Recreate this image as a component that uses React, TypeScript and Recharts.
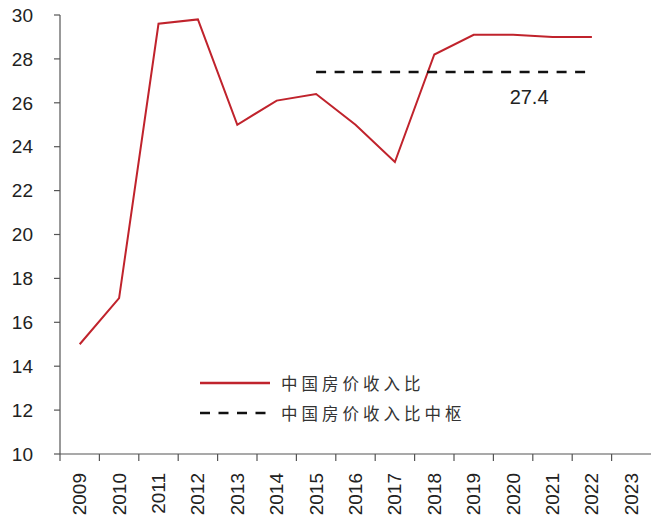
import React from "react"
import { LineChart, Line, XAxis, YAxis } from "recharts"

const years = ["2009", "2010", "2011", "2012", "2013", "2014", "2015", "2016", "2017", "2018", "2019", "2020", "2021", "2022", "2023"]
const ratio = [15.0, 17.1, 29.6, 29.8, 25.0, 26.1, 26.4, 25.0, 23.3, 28.2, 29.1, 29.1, 29.0, 29.0, null]
const median = [null, null, null, null, null, null, 27.4, 27.4, 27.4, 27.4, 27.4, 27.4, 27.4, 27.4, null]
const yTicks = [10, 12, 14, 16, 18, 20, 22, 24, 26, 28, 30]

const LINE_NAME = "中国房价收入比"
const MEDIAN_NAME = "中国房价收入比中枢"
const RED = "#c0232c"
const FONT = "'Liberation Sans', Arial, sans-serif"

const W = 651
const H = 517
const LEFT = 60
const band = (W - LEFT) / years.length

const data = years.map((year, i) => ({ year, ratio: ratio[i], median: median[i] }))

function XTick(props: any) {
  const { x, y, payload } = props
  return (
    <g>
      <line x1={x - band / 2} y1={y - 8} x2={x - band / 2} y2={y - 1} stroke="#555" strokeWidth={1.2} />
      <text
        x={x}
        y={y + 11}
        transform={`rotate(-90, ${x}, ${y + 11})`}
        textAnchor="end"
        dominantBaseline="central"
        fontSize={19}
        fill="#222"
        fontFamily={FONT}
      >
        {payload.value}
      </text>
    </g>
  )
}

function MedianLabel(props: any) {
  const { x, y, index } = props
  if (index !== 11) return null
  return (
    <text x={x + 16} y={y + 25} textAnchor="middle" dominantBaseline="central" fontSize={20} fill="#222" fontFamily={FONT}>
      27.4
    </text>
  )
}

function LegendBox() {
  const row: React.CSSProperties = { display: "flex", alignItems: "center", height: 30 }
  const txt: React.CSSProperties = {
    fontFamily: "'Noto Sans CJK SC', sans-serif",
    fontSize: 16.5,
    letterSpacing: 4,
    color: "#333",
    marginLeft: 11,
    lineHeight: "30px",
  }
  return (
    <div style={{ position: "absolute", left: 200, top: 368 }}>
      <div style={row}>
        <svg width={70} height={4}>
          <line x1={0} y1={2} x2={70} y2={2} stroke={RED} strokeWidth={2.5} />
        </svg>
        <span style={txt}>{LINE_NAME}</span>
      </div>
      <div style={row}>
        <svg width={70} height={4}>
          <line x1={0} y1={2} x2={70} y2={2} stroke="#111" strokeWidth={2.5} strokeDasharray="10 8.5" />
        </svg>
        <span style={txt}>{MEDIAN_NAME}</span>
      </div>
    </div>
  )
}

export default function App() {
  return (
    <div style={{ position: "absolute", left: 0, top: 0, width: W, height: H, background: "#fff" }}>
      <LineChart width={W} height={H} data={data} margin={{ top: 15, right: 0, bottom: 0, left: 0 }}>
        <XAxis
          dataKey="year"
          scale="band"
          interval={0}
          tickLine={false}
          axisLine={{ stroke: "#555", strokeWidth: 1.2 }}
          tick={<XTick />}
          height={63}
        />
        <YAxis
          domain={[10, 30]}
          ticks={yTicks}
          width={LEFT}
          tickSize={6}
          tickMargin={21}
          axisLine={{ stroke: "#555", strokeWidth: 1.2 }}
          tickLine={{ stroke: "#555", strokeWidth: 1.2 }}
          tick={{ fontSize: 19, fill: "#222", fontFamily: FONT }}
        />
        <Line
          dataKey="ratio"
          name={LINE_NAME}
          stroke={RED}
          strokeWidth={2}
          dot={false}
          activeDot={false}
          isAnimationActive={false}
        />
        <Line
          dataKey="median"
          name={MEDIAN_NAME}
          stroke="#111"
          strokeWidth={2.5}
          strokeDasharray="10 8.5"
          dot={false}
          activeDot={false}
          label={<MedianLabel />}
          isAnimationActive={false}
        />
      </LineChart>
      <LegendBox />
    </div>
  )
}
